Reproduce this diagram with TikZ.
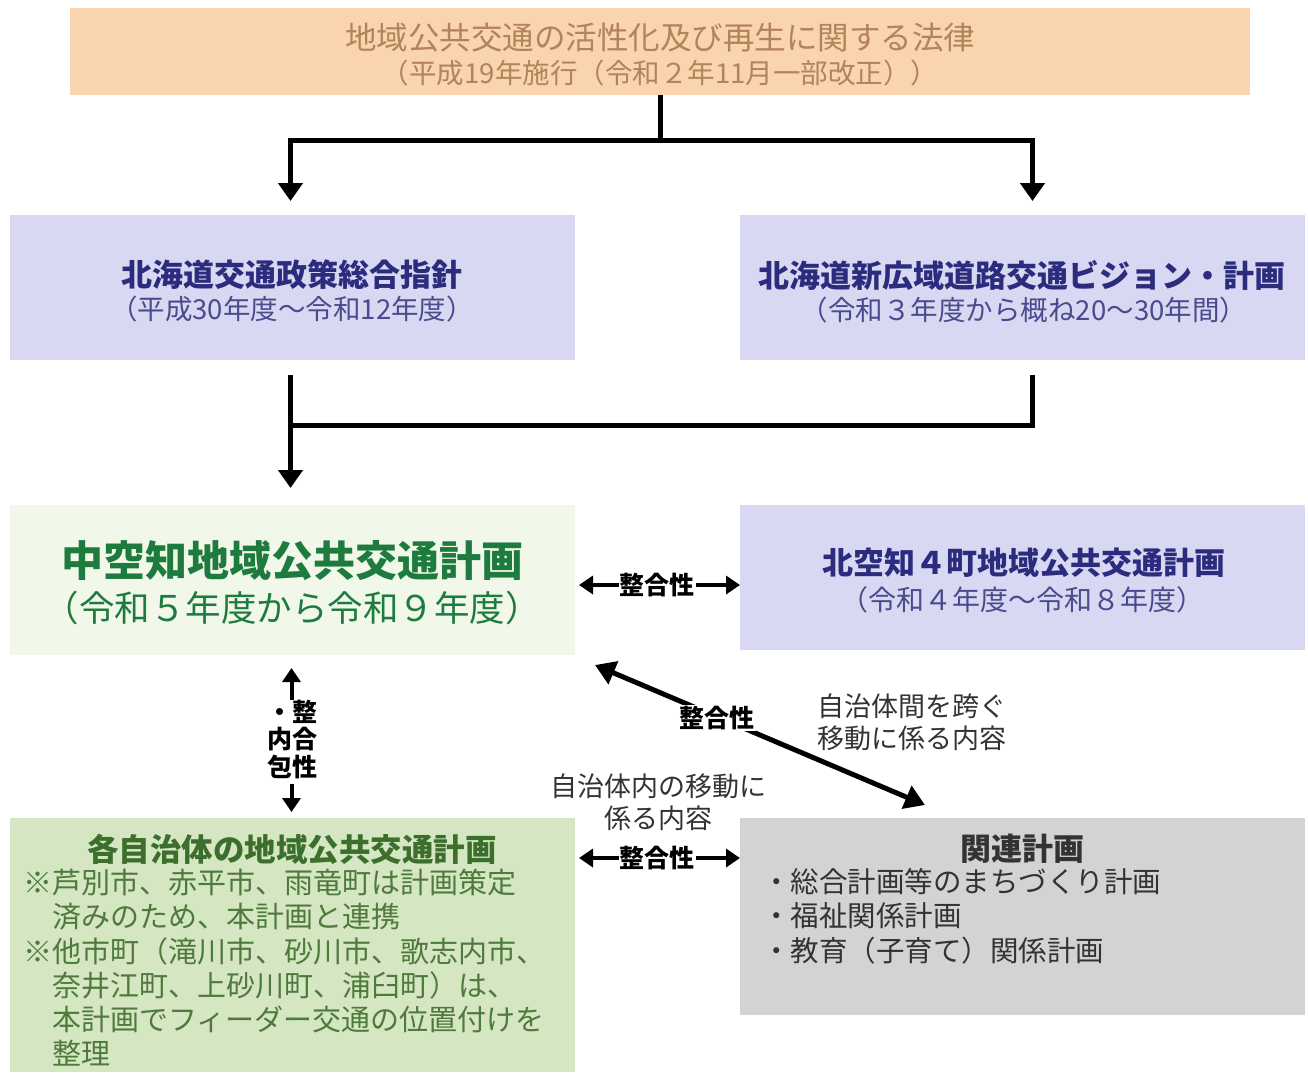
\documentclass[tikz,border=0pt]{standalone}
\usepackage{fontspec}
\setmainfont{Noto Sans CJK JP}
\usetikzlibrary{arrows.meta}
\definecolor{orfill}{HTML}{F9D4AE}
\definecolor{ortext}{HTML}{B3835A}
\definecolor{lvfill}{HTML}{D8D8F2}
\definecolor{lvtext}{HTML}{2C2C7E}
\definecolor{lvsub}{HTML}{4A4A8E}
\definecolor{lgfill}{HTML}{F1F8E9}
\definecolor{lgtext}{HTML}{1E7B3E}
\definecolor{gfill}{HTML}{D5E6C3}
\definecolor{gtext}{HTML}{3D6F2C}
\definecolor{gbody}{HTML}{4E7A3C}
\definecolor{gyfill}{HTML}{D5D2D2}
\definecolor{gytext}{HTML}{333333}
\tikzset{
  box/.style={draw=none, anchor=north west, inner sep=0pt, outer sep=0pt},
  flow/.style={line width=5pt, -{Triangle[length=18pt,width=24pt]}},
  plainline/.style={line width=5pt},
  both/.style={line width=4pt, {Triangle[length=14pt,width=18pt]}-{Triangle[length=14pt,width=18pt]}},
  bothbig/.style={line width=5pt, {Triangle[length=20pt,width=24pt]}-{Triangle[length=20pt,width=24pt]}},
  lbl/.style={fill=white, inner sep=1pt, text=black, font=\fontsize{25}{27}\selectfont\bfseries},
  note/.style={inner sep=0pt, text=gytext, align=left, font=\fontsize{27}{32}\selectfont},
}
\begin{document}
\begin{tikzpicture}[x=1pt,y=-1pt]
\useasboundingbox (0,0) rectangle (1308,1072);
\fill[white] (0,0) rectangle (1308,1072);

% boxes
\node[box, fill=orfill, minimum width=1180pt, minimum height=87pt] (top) at (70,8) {};
\node[box, fill=lvfill, minimum width=565pt, minimum height=145pt] (b2) at (10,215) {};
\node[box, fill=lvfill, minimum width=565pt, minimum height=145pt] (b3) at (740,215) {};
\node[box, fill=lgfill, minimum width=565pt, minimum height=150pt] (b4) at (10,505) {};
\node[box, fill=lvfill, minimum width=565pt, minimum height=145pt] (b5) at (740,505) {};
\node[box, fill=gfill, minimum width=565pt, minimum height=254pt] (b6) at (10,818) {};
\node[box, fill=gyfill, minimum width=565pt, minimum height=197pt] (b7) at (740,818) {};

% texts
\node[text=ortext, inner sep=0pt, font=\fontsize{31.5}{31}\selectfont] (t1a) at (660,38) {地域公共交通の活性化及び再生に関する法律};
\node[text=ortext, inner sep=0pt, font=\fontsize{27.5}{26}\selectfont] (t1b) at (660,73) {（平成19年施行（令和２年11月一部改正））};

\node[text=lvtext, inner sep=0pt, font=\fontsize{31}{31}\selectfont\bfseries] (t2a) at (292,275) {北海道交通政策総合指針};
\node[text=lvsub, inner sep=0pt, font=\fontsize{27.5}{26}\selectfont] (t2b) at (292,309) {（平成30年度～令和12年度）};

\node[text=lvtext, inner sep=0pt, font=\fontsize{31}{31}\selectfont\bfseries] (t3a) at (1022,275) {北海道新広域道路交通ビジョン・計画};
\node[text=lvsub, inner sep=0pt, font=\fontsize{27.5}{26}\selectfont] (t3b) at (1024,310) {（令和３年度から概ね20～30年間）};

\node[text=lgtext, inner sep=0pt, font=\fontsize{42}{42}\selectfont\bfseries] (t4a) at (292,561) {中空知地域公共交通計画};
\node[text=lgtext, inner sep=0pt, font=\fontsize{35.5}{34}\selectfont] (t4b) at (292,608) {（令和５年度から令和９年度）};

\node[text=lvtext, inner sep=0pt, font=\fontsize{31}{31}\selectfont\bfseries] (t5a) at (1024,563) {北空知４町地域公共交通計画};
\node[text=lvsub, inner sep=0pt, font=\fontsize{28}{26}\selectfont] (t5b) at (1022,600) {（令和４年度～令和８年度）};

\node[text=gtext, inner sep=0pt, font=\fontsize{31.5}{31}\selectfont\bfseries] (t6a) at (292,849) {各自治体の地域公共交通計画};
\node[anchor=north west, inner sep=0pt, text=gbody, align=left, font=\fontsize{29}{34.2}\selectfont] (t6b) at (23,869)
 {※芦別市、赤平市、雨竜町は計画策定\\　済みのため、本計画と連携\\※他市町（滝川市、砂川市、歌志内市、\\　奈井江町、上砂川町、浦臼町）は、\\　本計画でフィーダー交通の位置付けを\\　整理};

\node[text=gytext, inner sep=0pt, font=\fontsize{31}{31}\selectfont\bfseries] (t7a) at (1022,849) {関連計画};
\node[anchor=north west, inner sep=0pt, text=gytext, align=left, font=\fontsize{28.5}{34.5}\selectfont] (t7b) at (762,868)
 {・総合計画等のまちづくり計画\\・福祉関係計画\\・教育（子育て）関係計画};

% connectors from the law
\coordinate (j1) at (660,140);
\draw[plainline] (top.south) -- (j1);
\draw[flow, shorten >=14pt] (j1) -| ([xshift=10pt]b3.north);
\draw[flow, shorten >=14pt] (j1) -| ([xshift=-2pt]b2.north);

% to 中空知
\coordinate (j2) at (1032,425);
\draw[flow, shorten <=15pt, shorten >=17pt] ([xshift=-2pt]b2.south) -- ([xshift=-2pt]b4.north);
\draw[plainline, shorten <=15pt] ([xshift=10pt]b3.south) |- ([xshift=-4.5pt]j2 -| b2.south);

% consistency arrows
\draw[both, shorten <=4pt] ([yshift=-5pt]b4.east) -- ([yshift=-5pt]b4.east -| b5.west);
\node[lbl] (l1) at (657,585) {整合性};

\draw[both, shorten <=4pt] ([yshift=-40pt]b6.north east) -- ([yshift=-40pt]b7.north west);
\node[lbl] (l2) at (657,858) {整合性};

\draw[both, shorten <=13pt, shorten >=6pt] ([xshift=-1pt]b4.south) -- ([xshift=-1pt]b6.north);
\node[lbl, inner sep=0pt] (l3) at (292,742) {\begin{tabular}{@{}c@{}c@{}}・&整\\[-2pt]内&合\\[-2pt]包&性\end{tabular}};

\draw[bothbig] ([shift={(20pt,-10pt)}]b4.south east) -- ([shift={(185pt,13pt)}]b7.north west);
\node[lbl] (l4) at (717,718) {整合性};

\node[note] (n1) at (912,722) {自治体間を跨ぐ\\移動に係る内容};
\node[note, align=center] (n2) at (658,802) {自治体内の移動に\\係る内容};
\end{tikzpicture}
\end{document}
